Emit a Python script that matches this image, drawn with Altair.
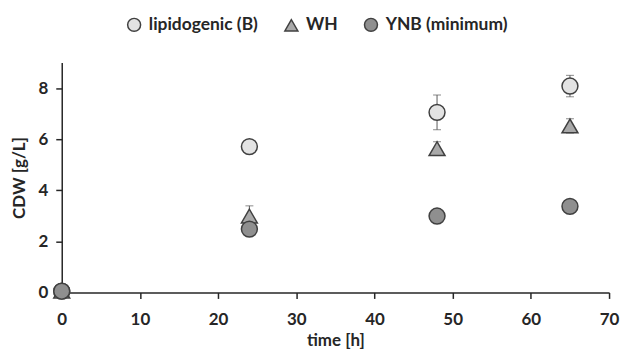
import altair as alt
import pandas as pd

times = [0, 24, 48, 65]
series = ["lipidogenic (B)", "WH", "YNB (minimum)"]
lip = [0.05, 5.71, 7.05, 8.08]
lip_err = [0.0, 0.1, 0.68, 0.42]
wh = [0.05, 2.99, 5.63, 6.52]
wh_err = [0.0, 0.4, 0.27, 0.28]
ynb = [0.05, 2.48, 2.99, 3.37]
ynb_err = [0.0, 0.05, 0.05, 0.05]

fills = ["#e3e3e3", "#a9a9a9", "#8f8f8f"]
shapes = ["circle", "triangle-up", "circle"]

rows = []
for name, vals, errs in zip(series, [lip, wh, ynb], [lip_err, wh_err, ynb_err]):
    for t, v, e in zip(times, vals, errs):
        rows.append({"time": t, "series": name, "cdw": v, "lo": v - e, "hi": v + e})
df = pd.DataFrame(rows)

FONT = "Lato"
x = alt.X("time:Q", scale=alt.Scale(domain=[0, 70], nice=False),
          axis=alt.Axis(values=list(range(0, 71, 10)), title="time [h]", labelFlush=False))
y = alt.Y("cdw:Q", scale=alt.Scale(domain=[0, 9], nice=False),
          axis=alt.Axis(values=list(range(0, 10)), title="CDW [g/L]", labelFlush=False,
                        labelExpr="datum.value % 2 == 0 ? datum.label : ''"))

base = alt.Chart(df)

err = base.mark_rule(color="#595959", strokeWidth=1).encode(
    x=x, y=alt.Y("lo:Q"), y2="hi:Q")
caps_hi = base.mark_tick(color="#595959", thickness=1, size=8, orient="horizontal").encode(
    x=x, y=alt.Y("hi:Q"))
caps_lo = base.mark_tick(color="#595959", thickness=1, size=8, orient="horizontal").encode(
    x=x, y=alt.Y("lo:Q"))

pts = base.mark_point(filled=True, opacity=1, stroke="#404040", strokeWidth=1.5, size=256).encode(
    x=x, y=y,
    fill=alt.Fill("series:N", scale=alt.Scale(domain=series, range=fills),
                  legend=alt.Legend(title=None, orient="none", direction="horizontal",
                                    legendX=64, legendY=-47, columnPadding=23,
                                    labelFontSize=17.5, labelFontWeight="bold", labelFont=FONT,
                                    labelColor="#262626", symbolSize=170, labelOffset=6,
                                    symbolStrokeColor="#404040", symbolStrokeWidth=1.5)),
    shape=alt.Shape("series:N", scale=alt.Scale(domain=series, range=shapes)),
)

chart = alt.layer(err, caps_hi, caps_lo, pts).properties(
    width=550, height=231,
    padding={"left": 54, "top": 54, "right": 12, "bottom": 56},
    autosize=alt.AutoSizeParams(type="none"),
).configure_view(stroke=None).configure_axis(
    grid=False, domainColor="#262626", domainWidth=1.5, tickColor="#262626", tickWidth=1.5,
    tickSize=6, labelFont=FONT, labelFontSize=17, labelFontWeight="bold", labelColor="#262626",
    titleFont=FONT, titleFontSize=17, titleFontWeight="bold", titleColor="#262626",
).configure_axisX(labelPadding=13, titlePadding=5).configure_axisY(labelPadding=8, titlePadding=10)

chart.save("out.html", embed_options={"renderer": "svg", "actions": False})
